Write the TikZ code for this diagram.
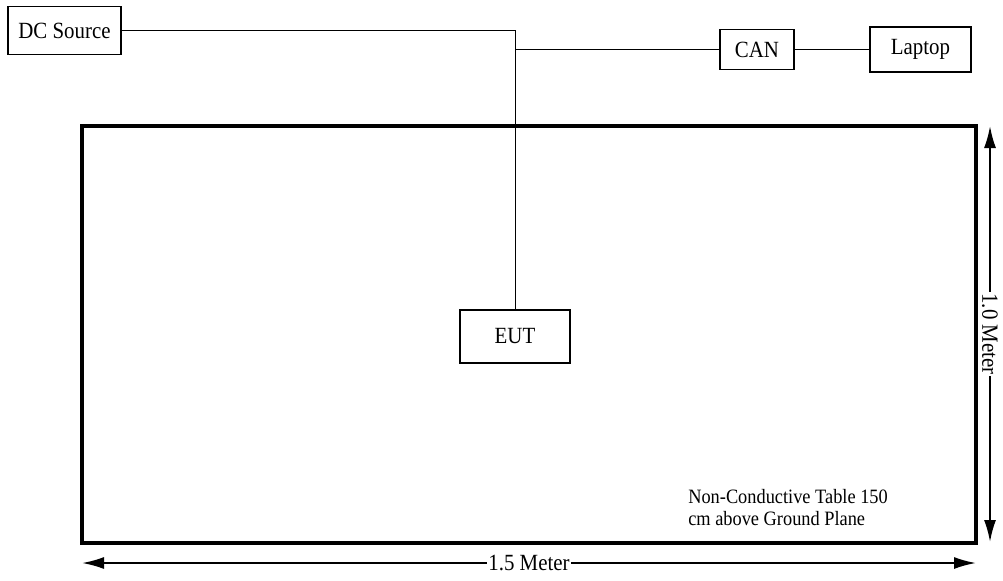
\documentclass[tikz,border=0pt]{standalone}
\usepackage{fontspec}
\setmainfont[FakeStretch=0.9]{Liberation Serif}
\usetikzlibrary{arrows.meta}

\tikzset{
  unitbox/.style={draw,line width=0.8pt,font=\fontsize{16.5}{18}\selectfont,inner sep=0pt},
  cable/.style={line width=0.7pt},
  dimline/.style={line width=1.4pt,{Latex[length=0.55cm,width=0.3cm]}-{Latex[length=0.55cm,width=0.3cm]}},
  dimlabel/.style={fill=white,inner sep=1pt,font=\fontsize{16.5}{18}\selectfont}
}

\begin{document}
\begin{tikzpicture}[x=0.025cm,y=-0.025cm]
                \useasboundingbox (0,0) rectangle (1003,580);
                \draw[line width=2.2pt] (82,126) rectangle (976,543);
                \node[unitbox,minimum width=2.825cm,minimum height=1.2cm] (dc) at (64.5,30.5) {DC Source};
                \node[unitbox,minimum width=1.85cm,minimum height=1cm] (can) at (757,49.5) {CAN};
                \node[unitbox,minimum width=2.525cm,minimum height=1.125cm] (laptop) at (920.5,49.5) {Laptop};
                \node[unitbox,minimum width=2.75cm,minimum height=1.325cm] (eut) at (515,336.5) {EUT};
                \coordinate (tap) at (515,49.5);
                \draw[cable] (dc) -- (dc -| eut) -- (eut);
                \draw[cable] (tap) -- (can);
                \draw[cable] (can) -- (laptop);
                \node[anchor=north west,align=left,inner sep=0pt,font=\fontsize{14.5}{15.5}\selectfont] (note) at (688,489) {Non-Conductive Table 150\\cm above Ground Plane};
                \draw[dimline] (990,126) -- (990,542) node[dimlabel,pos=0.5,rotate=-90] (height) {1.0 Meter};
                \draw[dimline] (82,563) -- (976,563) node[dimlabel,pos=0.5] (width) {1.5 Meter};
            \end{tikzpicture}
\end{document}
